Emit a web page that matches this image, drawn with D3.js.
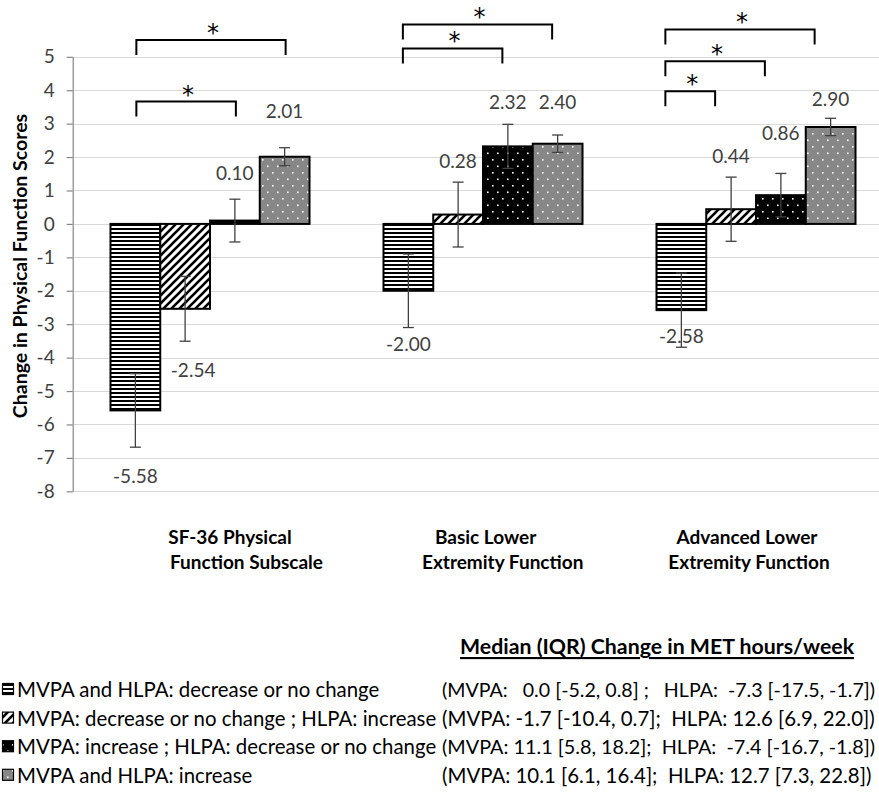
<!DOCTYPE html>
<html>
<head>
<meta charset="utf-8">
<script src="https://cdn.jsdelivr.net/npm/d3@7"></script>
<style>
  html, body { margin: 0; padding: 0; background: #fff; }
  svg { display: block; font-family: Lato, "Open Sans", sans-serif; }
  text { white-space: pre; }
</style>
</head>
<body>
<svg id="chart" width="879" height="796"></svg>
<script>
// ---------------- data ----------------
const categories = ["SF-36 Physical Function Subscale", "Basic Lower Extremity Function", "Advanced Lower Extremity Function"];
const categoryLines = [["SF-36 Physical", "Function Subscale"], ["Basic Lower", "Extremity Function"], ["Advanced Lower", "Extremity Function"]];
const seriesNames = [
  "MVPA and HLPA: decrease or no change",
  "MVPA: decrease or no change ; HLPA: increase",
  "MVPA: increase ; HLPA: decrease or no change",
  "MVPA and HLPA: increase"
];
const seriesMET = [
  "(MVPA:   0.0 [-5.2, 0.8] ;   HLPA:  -7.3 [-17.5, -1.7])",
  "(MVPA: -1.7 [-10.4, 0.7];  HLPA: 12.6 [6.9, 22.0])",
  "(MVPA: 11.1 [5.8, 18.2];  HLPA:  -7.4 [-16.7, -1.8])",
  "(MVPA: 10.1 [6.1, 16.4];  HLPA: 12.7 [7.3, 22.8])"
];
const metTitle = "Median (IQR) Change in MET hours/week";
const yAxisTitle = "Change in Physical Function Scores";
const yTicks = [5, 4, 3, 2, 1, 0, -1, -2, -3, -4, -5, -6, -7, -8];

// values per series, across the three categories
const valuesS1 = [-5.58, -2.00, -2.58];
const valuesS2 = [-2.54, 0.28, 0.44];
const valuesS3 = [0.10, 2.32, 0.86];
const valuesS4 = [2.01, 2.40, 2.90];
// error-bar half widths
const errorsS1 = [1.10, 1.10, 1.11];
const errorsS2 = [0.97, 0.97, 0.96];
const errorsS3 = [0.64, 0.66, 0.65];
const errorsS4 = [0.27, 0.26, 0.26];
// data-label anchor (in data units)
const labelAtS1 = [-7.53, -3.59, -3.33];
const labelAtS2 = [-4.35, 1.91, 2.06];
const labelAtS3 = [1.55, 3.67, 2.73];
const labelAtS4 = [3.38, 3.67, 3.74];
// significance brackets: category, from bar, to bar, level (data units)
const sigCat   = [0, 0, 1, 1, 2, 2, 2];
const sigFrom  = [0, 0, 0, 0, 0, 0, 0];
const sigTo    = [3, 2, 3, 2, 3, 2, 1];
const sigLevel = [5.50, 3.66, 5.97, 5.25, 5.82, 4.87, 3.97];

const values = [valuesS1, valuesS2, valuesS3, valuesS4];
const errors = [errorsS1, errorsS2, errorsS3, errorsS4];
const labelAt = [labelAtS1, labelAtS2, labelAtS3, labelAtS4];

// ---------------- layout ----------------
const W = 879, H = 796;
const plotLeft = 72.7, plotTop = 56.8, plotBottom = 491.3;
const bracketShift = [1, -5.5, -16];
const labelNudge = [[0, 0, 0], [8, 0, 0], [0, 0, 0], [0, 0, 0]];
const svg = d3.select("#chart");

const y = d3.scaleLinear().domain([-8, 5]).range([plotBottom, plotTop]);
const x0 = d3.scaleBand().domain(d3.range(categories.length))
  .range([73.5, 892.5]).paddingInner(0.271).paddingOuter(0.1355);
const x1 = d3.scaleBand().domain(d3.range(4)).range([0, x0.bandwidth()]).padding(0);

// ---------------- patterns ----------------
const defs = svg.append("defs");
const p1 = defs.append("pattern").attr("id", "pat0").attr("patternUnits", "userSpaceOnUse")
  .attr("width", 8).attr("height", 4);
p1.append("rect").attr("width", 8).attr("height", 4).attr("fill", "#fff");
p1.append("rect").attr("y", 0).attr("width", 8).attr("height", 2).attr("fill", "#000");
const p2 = defs.append("pattern").attr("id", "pat1").attr("patternUnits", "userSpaceOnUse")
  .attr("width", 8).attr("height", 8);
p2.append("rect").attr("width", 8).attr("height", 8).attr("fill", "#fff");
p2.append("path").attr("d", "M-2,2 L2,-2 M0,8 L8,0 M6,10 L10,6")
  .attr("stroke", "#000").attr("stroke-width", 2.6);
function dotted(id, bg) {
  const p = defs.append("pattern").attr("id", id).attr("patternUnits", "userSpaceOnUse")
    .attr("width", 10).attr("height", 13);
  p.append("rect").attr("width", 10).attr("height", 13).attr("fill", bg);
  p.append("rect").attr("x", 2).attr("y", 3).attr("width", 1.6).attr("height", 1.6).attr("fill", "#fff");
  p.append("rect").attr("x", 7).attr("y", 9.5).attr("width", 1.6).attr("height", 1.6).attr("fill", "#fff");
}
dotted("pat2", "#000");
dotted("pat3", "#878787");

// ---------------- gridlines & axis ----------------
svg.append("g").selectAll("line").data(yTicks).join("line")
  .attr("x1", plotLeft).attr("x2", W)
  .attr("y1", d => Math.round(y(d)) + 0.5).attr("y2", d => Math.round(y(d)) + 0.5)
  .attr("stroke", "#d9d9d9").attr("stroke-width", 1.2);

const yAxis = svg.append("g").attr("transform", `translate(${plotLeft},0)`)
  .call(d3.axisLeft(y).tickValues(yTicks).tickSize(6).tickSizeOuter(0).tickPadding(12)
    .tickFormat(d => String(d)));
yAxis.select(".domain").attr("stroke", "#868686").attr("stroke-width", 1.2);
yAxis.selectAll(".tick line").attr("stroke", "#868686").attr("stroke-width", 1.2);
yAxis.selectAll(".tick text").attr("font-size", 19).attr("fill", "#404040")
  .attr("font-family", "Lato, sans-serif");

svg.append("text")
  .attr("transform", `translate(19,266) rotate(-90)`)
  .attr("text-anchor", "middle").attr("dominant-baseline", "central")
  .attr("font-weight", "bold").attr("font-size", 19.5).attr("fill", "#000")
  .text(yAxisTitle);

// ---------------- bars ----------------
const barData = [];
values.forEach((arr, s) => arr.forEach((v, c) => barData.push({ s, c, v, e: errors[s][c], la: labelAt[s][c] })));

svg.append("g").selectAll("rect").data(barData).join("rect")
  .attr("x", d => x0(d.c) + x1(d.s))
  .attr("width", x1.bandwidth())
  .attr("y", d => y(Math.max(0, d.v)))
  .attr("height", d => Math.abs(y(d.v) - y(0)))
  .attr("fill", d => `url(#pat${d.s})`)
  .attr("stroke", "#000").attr("stroke-width", 2);

const eg = svg.append("g").attr("stroke", "#404040").attr("stroke-width", 1.3);
barData.forEach(d => {
  const cx = x0(d.c) + x1(d.s) + x1.bandwidth() / 2;
  eg.append("line").attr("x1", cx).attr("x2", cx).attr("y1", y(d.v + d.e)).attr("y2", y(d.v - d.e));
  [d.v + d.e, d.v - d.e].forEach(t => {
    eg.append("line").attr("x1", cx - 5.5).attr("x2", cx + 5.5).attr("y1", y(t)).attr("y2", y(t));
  });
});

svg.append("g").selectAll("text").data(barData).join("text")
  .attr("x", d => x0(d.c) + x1(d.s) + x1.bandwidth() / 2 + labelNudge[d.s][d.c])
  .attr("y", d => y(d.la))
  .attr("text-anchor", "middle").attr("dominant-baseline", "central")
  .attr("font-size", 19).attr("fill", "#404040")
  .text(d => d.v.toFixed(2));

// ---------------- significance brackets ----------------
const bg = svg.append("g");
sigCat.forEach((c, i) => {
  const xa = x0(c) + x1(sigFrom[i]) + x1.bandwidth() / 2 + bracketShift[c];
  const xb = x0(c) + x1(sigTo[i]) + x1.bandwidth() / 2 + bracketShift[c];
  const yl = y(sigLevel[i]);
  bg.append("path").attr("d", `M${xa},${yl + 15}V${yl}H${xb}V${yl + 15}`)
    .attr("fill", "none").attr("stroke", "#000").attr("stroke-width", 2);
  bg.append("text").attr("x", (xa + xb) / 2 + 2).attr("y", yl + 1)
    .attr("text-anchor", "middle").attr("font-size", 24).attr("fill", "#000")
    .attr("font-family", "DejaVu Sans, sans-serif")
    .text("*");
});

// ---------------- category labels ----------------
const catDx = [[20, 36.5], [2.6, 19.7], [-9, -7]];
categoryLines.forEach((lines, c) => {
  lines.forEach((ln, k) => {
    svg.append("text")
      .attr("x", x0(c) + x0.bandwidth() / 2 + catDx[c][k])
      .attr("y", 536 + k * 25)
      .attr("text-anchor", "middle").attr("dominant-baseline", "central")
      .attr("font-weight", "bold").attr("font-size", 19).attr("fill", "#000")
      .text(ln);
  });
});

// ---------------- legend ----------------
svg.append("text").attr("x", 657).attr("y", 646)
  .attr("text-anchor", "middle").attr("dominant-baseline", "central")
  .attr("font-weight", "bold").attr("font-size", 21.3).attr("text-decoration", "underline")
  .text(metTitle);

seriesNames.forEach((name, i) => {
  const yy = 689 + i * 28.6;
  svg.append("rect").attr("x", 2.5).attr("y", yy - 5.5).attr("width", 11).attr("height", 11)
    .attr("fill", `url(#pat${i})`).attr("stroke", "#000").attr("stroke-width", 1.2);
  svg.append("text").attr("x", 17).attr("y", yy)
    .attr("dominant-baseline", "central").attr("font-size", 20.4).attr("fill", "#000")
    .text(name);
  const fs = 20.4;
  const t = svg.append("text").attr("x", 442).attr("y", yy)
    .attr("dominant-baseline", "central").attr("font-size", fs).attr("fill", "#000")
    .text(seriesMET[i]);
  const len = t.node().getComputedTextLength();
  const avail = W - 4 - 442;
  if (len > avail) t.attr("font-size", (fs * avail / len).toFixed(2));
});
</script>
</body>
</html>
